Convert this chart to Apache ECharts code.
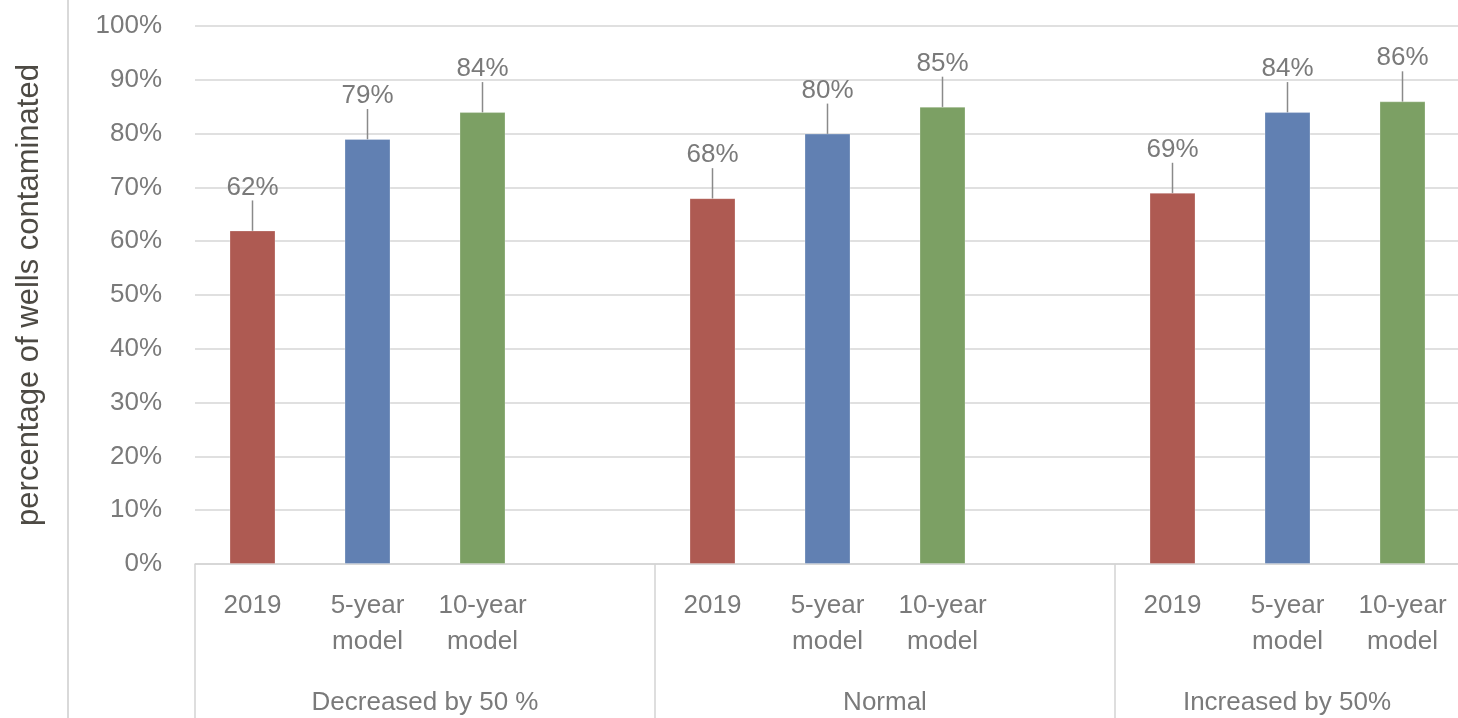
<!DOCTYPE html>
<html>
<head>
<meta charset="utf-8">
<script src="https://cdn.jsdelivr.net/npm/echarts@6/dist/echarts.min.js"></script>
<style>
html,body{margin:0;padding:0;background:#fff;}
#chart{width:1458px;height:718px;}
</style>
</head>
<body>
<div id="chart"></div>
<script>
// ---- data ----
const groups = ['Decreased by 50 %', 'Normal', 'Increased by 50%'];
const models = ['2019', '5-year\nmodel', '10-year\nmodel'];
const values2019 = [62, 68, 69];
const values5yr = [79, 80, 84];
const values10yr = [84, 85, 86];
const yTicks = [0, 10, 20, 30, 40, 50, 60, 70, 80, 90, 100];
const yTitle = 'percentage of wells contaminated';

const colors = ['#AE5A52', '#6180B2', '#7CA064'];
const seriesVals = [values2019, values5yr, values10yr];

// build 4 slots per group (4th slot empty)
const cats = [];
const data = [];
groups.forEach((g, gi) => {
  models.forEach((m, mi) => {
    cats.push(m);
    data.push({ value: seriesVals[mi][gi], itemStyle: { color: colors[mi] } });
  });
  cats.push('');
  data.push(null);
});

// last group is cut by the right edge: its label is centred on the visible part
const groupCats = groups.map((g, i) => i === groups.length - 1
  ? { value: g, textStyle: { padding: [0, 116, 0, 0] } }
  : g);

const txt = '#7a7a7a';
const font = '"Liberation Sans", Arial, sans-serif';

const chart = echarts.init(document.getElementById('chart'));
chart.setOption({
  animation: false,
  backgroundColor: '#fff',
  grid: { left: 195, top: 26, height: 538, width: 1380, outerBoundsMode: 'none', containLabel: false },
  xAxis: [
    {
      type: 'category',
      data: cats,
      position: 'bottom',
      axisLine: { show: true, lineStyle: { color: '#d4d4d4', width: 1.5 } },
      axisTick: { show: false },
      axisLabel: {
        interval: 0, color: txt, fontSize: 26, fontFamily: font,
        lineHeight: 36, margin: 24
      }
    },
    {
      type: 'category',
      data: groupCats,
      position: 'bottom',
      axisLine: { show: false },
      axisTick: { show: true, length: 160, lineStyle: { color: '#d4d4d4', width: 1.5 } },
      axisLabel: { interval: 0, color: txt, fontSize: 26, fontFamily: font, margin: 126 }
    }
  ],
  yAxis: {
    type: 'value',
    min: 0, max: 100, interval: 10,
    axisLine: { show: false },
    axisTick: { show: false },
    splitLine: { lineStyle: { color: '#d6d6d6', width: 1.5 } },
    axisLabel: {
      color: txt, fontSize: 26, fontFamily: font, margin: 33,
      formatter: v => yTicks.includes(v) ? v + '%' : ''
    },
    name: yTitle,
    nameLocation: 'middle',
    nameGap: 150,
    nameTextStyle: { color: '#4d4a44', fontSize: 31, fontFamily: font }
  },
  graphic: [{
    type: 'line',
    shape: { x1: 68, y1: 0, x2: 68, y2: 718 },
    style: { stroke: '#d9d9d9', lineWidth: 2 }
  }],
  series: [{
    type: 'bar',
    xAxisIndex: 0,
    data: data,
    barWidth: 46,
    itemStyle: { borderColor: 'rgba(255,255,255,0.25)', borderWidth: 1 },
    label: {
      show: true, position: 'top', distance: 6,
      formatter: p => p.value + '%',
      color: txt, fontSize: 26, fontFamily: font
    },
    labelLayout: { dy: -24 },
    labelLine: { show: true, lineStyle: { color: '#8a8a8a', width: 1.5 } }
  }]
});
</script>
</body>
</html>
